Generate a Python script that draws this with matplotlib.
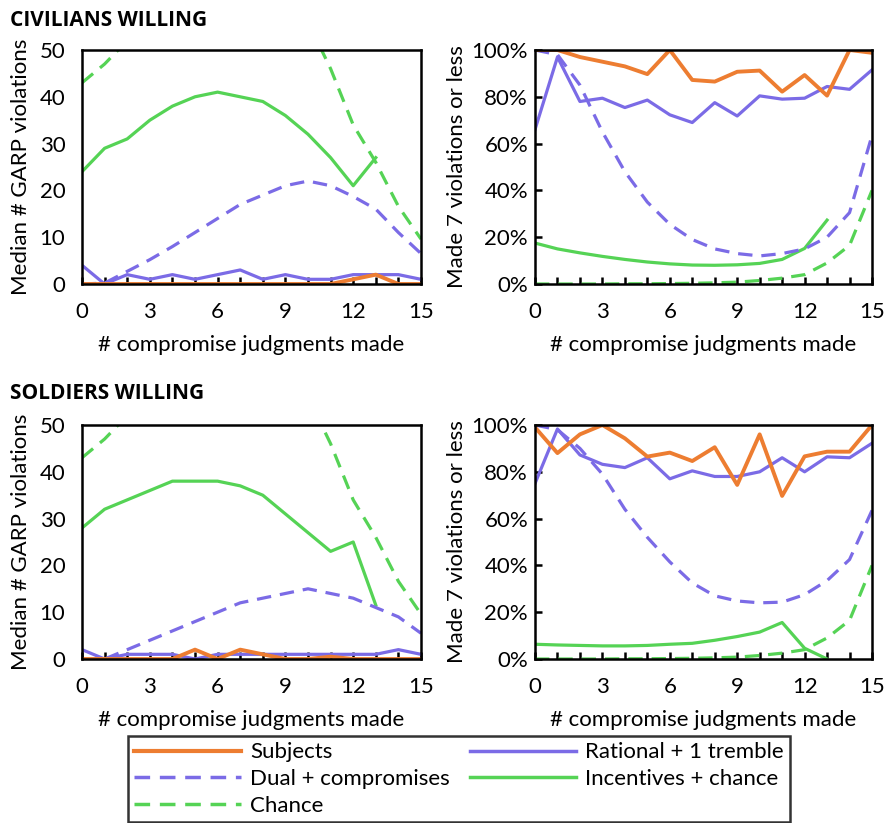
import numpy as np
import matplotlib
matplotlib.use("Agg")
import matplotlib.pyplot as plt
from matplotlib.ticker import MultipleLocator, PercentFormatter
from matplotlib.lines import Line2D

plt.rcParams["font.family"] = ["Lato", "DejaVu Sans"]

# ── Data ─────────────────────────────────────────────────────────────────
x = np.arange(16)
x13 = np.arange(14)   # incentives series stop at 13

# Median # GARP violations
chance_garp = [43, 47, 52, 58, 63, 66, 67, 66, 63, 58, 56, 46, 34, 26, 16.6, 9.6]

civ_subjects = [0, 0, 0, 0, 0, 0, 0, 0, 0, 0, 0, 0, 1, 2, 0, 0]
civ_rational = [4, 0, 2, 1, 2, 1, 2, 3, 1, 2, 1, 1, 2, 2, 2, 1]
civ_dual = [0, 0.2, 2.7, 5.2, 8, 11, 14, 17, 19, 21, 22, 21, 18.7, 16, 11, 6.5]
civ_incent = [24, 29, 31, 35, 38, 40, 41, 40, 39, 36, 32, 27, 21, 27]

sol_subjects = [0, 0, 0, 0, 0, 2, 0, 2, 1, 0, 0, 0.5, 0, 0, 0, 0]
sol_rational = [2, 0, 1, 1, 1, 0, 1, 1, 1, 1, 1, 1, 1, 1, 2, 1]
sol_dual = [0, 0, 2, 4, 6, 8, 10, 12, 13, 14, 15, 14, 13, 11, 9, 5.5]
sol_incent = [28, 32, 34, 36, 38, 38, 38, 37, 35, 31, 27, 23, 25, 11.5]

# Share making 7 violations or less (%)
chance_pct = [0, 0, 0, 0, 0.1, 0.1, 0.2, 0.3, 0.5, 0.8, 1.5, 2.5, 4, 9, 16.5, 40]

civ_subjects_pct = [100, 100, 97, 95, 93, 89.7, 100, 87.2, 86.5, 90.7, 91.2, 82.2, 89.3, 80.5, 100, 98.8]
civ_rational_pct = [66, 97, 78, 79.4, 75.4, 78.6, 72.3, 69, 77.5, 71.8, 80.4, 79, 79.4, 84.4, 83.2, 91.5]
civ_dual_pct = [100, 98, 85, 65, 48, 35, 25.5, 19, 15, 13, 12, 13, 15, 20, 30.5, 63.5]
civ_incent_pct = [17.5, 15, 13.3, 11.8, 10.5, 9.4, 8.6, 8.1, 8, 8.2, 8.8, 10.5, 15.2, 27.3]

sol_subjects_pct = [99, 88, 96, 100, 94.3, 86.5, 88.2, 84.6, 90.5, 74.4, 96, 69.7, 86.6, 88.6, 88.6, 100]
sol_rational_pct = [75, 98.3, 87.2, 83.2, 81.8, 86, 77, 80.4, 78, 78, 80, 86, 80, 86.4, 86, 92.2]
sol_dual_pct = [100, 98, 90, 79, 64, 52, 41.5, 32.5, 27, 24.8, 24, 24.3, 27.5, 33.5, 42.5, 63.5]
sol_incent_pct = [6.3, 6, 5.8, 5.6, 5.6, 5.8, 6.3, 6.7, 8, 9.6, 11.5, 15.6, 4.6, 0]

# ── Style ────────────────────────────────────────────────────────────────
ORANGE = "#ED7D31"
PURPLE = "#7B6BE6"
GREEN = "#55D355"
LW_SUBJ = 2.8
LW = 2.3
DASH = (0, (4.5, 2.8))
TICK_FS = 16
LABEL_FS = 16


def style_axes(ax, percent=False):
    ax.set_xlim(0, 15)
    ax.xaxis.set_major_locator(MultipleLocator(3))
    ax.xaxis.set_minor_locator(MultipleLocator(1))
    ax.tick_params(axis="x", which="both", direction="in", length=5, width=1.8,
                   labelsize=TICK_FS, pad=13)
    ax.set_xlabel("# compromise judgments made", fontsize=LABEL_FS, labelpad=9)
    if percent:
        ax.set_ylim(0, 100)
        ax.yaxis.set_major_locator(MultipleLocator(20))
        ax.yaxis.set_major_formatter(PercentFormatter(decimals=0))
        ax.tick_params(axis="y", direction="in", length=5, width=1.8,
                       labelsize=TICK_FS, pad=5)
        ax.set_ylabel("Made 7 violations or less", fontsize=LABEL_FS, labelpad=3)
    else:
        ax.set_ylim(0, 50)
        ax.yaxis.set_major_locator(MultipleLocator(10))
        ax.tick_params(axis="y", length=0, labelsize=TICK_FS, pad=12)
        ax.set_ylabel("Median # GARP violations", fontsize=LABEL_FS, labelpad=6)
    for sp in ax.spines.values():
        sp.set_linewidth(1.8)


def draw_panel(ax, subjects, rational, dual, incent, chance, percent=False):
    ax.plot(x, chance, color=GREEN, lw=LW, linestyle=DASH)
    ax.plot(x13, incent, color=GREEN, lw=LW)
    ax.plot(x, dual, color=PURPLE, lw=LW, linestyle=DASH)
    ax.plot(x, rational, color=PURPLE, lw=LW)
    ax.plot(x, subjects, color=ORANGE, lw=LW_SUBJ)
    style_axes(ax, percent)


fig = plt.figure(figsize=(8.88, 8.23), dpi=100)
W, H = 888, 823


def add_ax(l, t, r, b):
    return fig.add_axes([l / W, 1 - b / H, (r - l) / W, (b - t) / H])


ax1 = add_ax(82, 50, 421, 284)
ax2 = add_ax(535, 50, 872, 284)
ax3 = add_ax(82, 425, 421, 659)
ax4 = add_ax(535, 425, 872, 659)

draw_panel(ax1, civ_subjects, civ_rational, civ_dual, civ_incent, chance_garp)
draw_panel(ax2, civ_subjects_pct, civ_rational_pct, civ_dual_pct, civ_incent_pct,
           chance_pct, percent=True)
draw_panel(ax3, sol_subjects, sol_rational, sol_dual, sol_incent, chance_garp)
draw_panel(ax4, sol_subjects_pct, sol_rational_pct, sol_dual_pct, sol_incent_pct,
           chance_pct, percent=True)

fig.text(10 / W, 1 - 20 / H, "CIVILIANS WILLING", fontsize=15, fontweight="bold",
         family=["Open Sans", "DejaVu Sans"], va="center", ha="left")
fig.text(10 / W, 1 - 394 / H, "SOLDIERS WILLING", fontsize=15, fontweight="bold",
         family=["Open Sans", "DejaVu Sans"], va="center", ha="left")

handles = [
    Line2D([], [], color=ORANGE, lw=3),
    Line2D([], [], color=PURPLE, lw=2.5, linestyle=DASH),
    Line2D([], [], color=GREEN, lw=2.5, linestyle=DASH),
    Line2D([], [], color=PURPLE, lw=2.5),
    Line2D([], [], color=GREEN, lw=2.5),
]
labels = ["Subjects", "Dual + compromises", "Chance",
          "Rational + 1 tremble", "Incentives + chance"]
leg = fig.legend(handles, labels, ncol=2, loc="center",
                 bbox_to_anchor=(459 / W, 1 - 779 / H), fontsize=16,
                 frameon=True, fancybox=False, edgecolor="black",
                 handlelength=4.8, handletextpad=0.4, columnspacing=0.9,
                 labelspacing=0.3, borderpad=0.3, borderaxespad=0)
leg.get_frame().set_linewidth(1.8)

fig.savefig("out.png", dpi=100)
